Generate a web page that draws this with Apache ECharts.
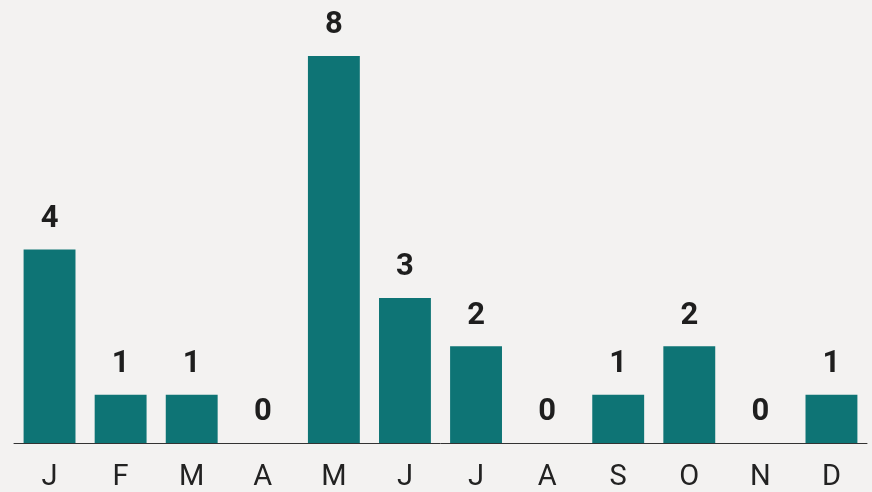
<!DOCTYPE html>
<html>
<head>
<meta charset="utf-8">
<script src="https://cdn.jsdelivr.net/npm/echarts@6/dist/echarts.min.js"></script>
<style>
  html, body { margin: 0; padding: 0; background: #f3f2f1; }
  #main { width: 872px; height: 492px; }
</style>
</head>
<body>
<div id="main"></div>
<script>
var months = ['J', 'F', 'M', 'A', 'M', 'J', 'J', 'A', 'S', 'O', 'N', 'D'];
var counts = [4, 1, 1, 0, 8, 3, 2, 0, 1, 2, 0, 1];

var chart = echarts.init(document.getElementById('main'));

var option = {
    backgroundColor: '#f3f2f1',
    animation: false,
    grid: { left: 14, right: 5, top: 56, bottom: 49, containLabel: false },
    xAxis: {
        type: 'category',
        data: months,
        axisTick: { show: false },
        axisLine: { lineStyle: { color: '#333', width: 1 } },
        axisLabel: {
            color: '#222',
            fontFamily: 'Roboto',
            fontSize: 29,
            margin: 20
        }
    },
    yAxis: {
        type: 'value',
        min: 0,
        max: 8,
        show: false
    },
    series: [{
        type: 'bar',
        data: counts,
        barCategoryGap: '27%',
        itemStyle: { color: '#0e7475' },
        label: {
            show: true,
            position: 'top',
            distance: 15,
            color: '#1e1e1e',
            fontFamily: 'Roboto',
            fontWeight: 'bold',
            fontSize: 31
        }
    }]
};

chart.setOption(option);
</script>
</body>
</html>
